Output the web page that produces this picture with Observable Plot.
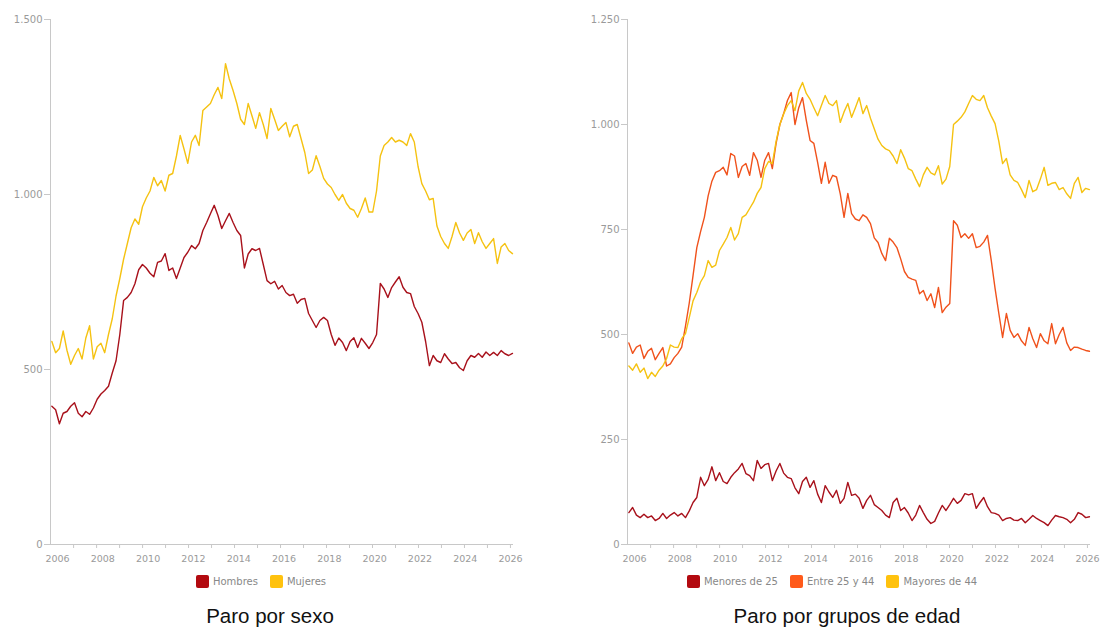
<!DOCTYPE html>
<html>
<head>
<meta charset="utf-8">
<script src="https://cdn.jsdelivr.net/npm/d3@7"></script>
<script src="https://cdn.jsdelivr.net/npm/@observablehq/plot@0.6"></script>
<style>
  html, body { margin: 0; padding: 0; background: #fff; }
  #root { position: relative; width: 1100px; height: 630px; overflow: hidden; background: #fff; }
  .panel-svg { position: absolute; top: 0; }
  .legend { position: absolute; top: 575px; display: flex; justify-content: center; align-items: center; gap: 12px;
            font-family: "DejaVu Sans", sans-serif; font-size: 10px; color: #888; }
  .legend .item { display: flex; align-items: center; gap: 4px; }
  .legend .sw { width: 13px; height: 13px; border-radius: 2px; display: inline-block; }
  .title { position: absolute; top: 604px; text-align: center; font-family: "Liberation Sans", Arial, sans-serif;
           font-size: 20.5px; color: #111; }
</style>
</head>
<body>
<div id="root"></div>
<script>
// ---- Data (one point every 2 months) ----
const startYear = 2005.75;      // first observation (decimal year)
const stepYears = 1 / 6;        // 2-month spacing

const sexNames = ["Hombres", "Mujeres"];
const sexColors = ["#a8111b", "#f5c211"];
const hombres = [
  395, 385, 345, 375, 380, 395, 405, 375, 365, 380, 372, 390,
  415, 430, 440, 452, 490, 525, 600, 697, 706, 720, 745, 785,
  800, 790, 775, 765, 806, 810, 831, 783, 790, 760, 790, 820,
  835, 854, 845, 860, 897, 920, 945, 969, 940, 903, 925, 946,
  920, 897, 883, 790, 830, 845, 840, 846, 800, 754, 745, 752,
  730, 740, 720, 711, 715, 689, 700, 703, 660, 640, 620, 640,
  649, 640, 600, 569, 590, 577, 554, 580, 591, 563, 589, 575,
  560, 577, 600, 746, 730, 706, 734, 750, 765, 735, 720, 717,
  680, 660, 635, 580, 511, 540, 525, 520, 545, 530, 517, 520,
  505, 497, 525, 540, 535, 546, 535, 550, 540, 549, 540, 554,
  545, 540, 546
];
const mujeres = [
  580, 548, 560, 610, 555, 515, 540, 560, 530, 590, 625, 530,
  565, 575, 548, 600, 645, 710, 760, 815, 860, 905, 930, 915,
  965, 990, 1010, 1049, 1025, 1040, 1010, 1055, 1060, 1110, 1169, 1130,
  1089, 1150, 1169, 1140, 1240, 1250, 1260, 1285, 1306, 1274, 1374, 1330,
  1297, 1260, 1215, 1200, 1260, 1225, 1189, 1234, 1200, 1160, 1246, 1215,
  1183, 1195, 1206, 1165, 1195, 1200, 1160, 1120, 1060, 1070, 1111, 1080,
  1046, 1030, 1020, 1000, 983, 1000, 975, 960, 955, 935, 960, 990,
  950, 950, 1010, 1110, 1140, 1150, 1163, 1150, 1155, 1150, 1140, 1174,
  1150, 1080, 1031, 1010, 985, 989, 910, 880, 860, 846, 880, 920,
  890, 869, 890, 900, 860, 891, 865, 846, 860, 874, 803, 850,
  860, 840, 831
];

const ageNames = ["Menores de 25", "Entre 25 y 44", "Mayores de 44"];
const ageColors = ["#a8111b", "#f0521c", "#f5c211"];
const menores25 = [
  76, 88, 70, 64, 72, 64, 68, 57, 62, 74, 62, 70,
  76, 68, 74, 64, 80, 100, 112, 160, 140, 155, 185, 152,
  171, 150, 145, 160, 171, 180, 193, 169, 164, 152, 200, 181,
  190, 193, 152, 175, 193, 170, 160, 157, 135, 121, 150, 160,
  136, 152, 120, 100, 140, 125, 112, 129, 98, 110, 148, 117,
  120, 110, 86, 105, 117, 95, 88, 81, 70, 64, 100, 110,
  81, 88, 75, 57, 70, 93, 76, 60, 50, 55, 75, 93,
  81, 95, 110, 98, 105, 121, 118, 121, 86, 100, 112, 90,
  76, 74, 70, 57, 62, 64, 58, 57, 62, 52, 60, 69,
  62, 57, 52, 45, 58, 69, 66, 64, 60, 52, 60, 76,
  72, 64, 66
];
const entre25y44 = [
  480, 455, 470, 475, 443, 460, 467, 440, 455, 469, 425, 430,
  445, 455, 470, 520, 575, 640, 707, 745, 779, 830, 865, 886,
  890, 898, 880, 931, 925, 874, 900, 907, 879, 933, 915, 874,
  915, 933, 895, 955, 1000, 1026, 1057, 1076, 1000, 1040, 1064, 1010,
  962, 955, 910, 860, 910, 860, 879, 875, 835, 779, 836, 788,
  775, 771, 785, 779, 764, 730, 719, 693, 676, 729, 720, 707,
  680, 650, 636, 632, 629, 597, 605, 581, 597, 564, 612, 552,
  565, 574, 771, 760, 731, 740, 729, 740, 707, 710, 720, 736,
  676, 610, 550, 493, 550, 510, 493, 502, 485, 474, 517, 490,
  469, 502, 485, 478, 526, 478, 500, 517, 480, 462, 470, 469,
  465, 462, 460
];
const mayores44 = [
  425, 415, 430, 410, 420, 395, 410, 400, 415, 425, 443, 475,
  470, 469, 490, 502, 540, 580, 600, 625, 640, 676, 660, 665,
  700, 715, 731, 755, 725, 740, 779, 785, 800, 815, 836, 850,
  895, 912, 907, 960, 1000, 1025, 1045, 1057, 1033, 1080, 1100, 1074,
  1060, 1040, 1021, 1045, 1069, 1050, 1045, 1057, 1005, 1030, 1050, 1017,
  1040, 1064, 1026, 1045, 1015, 990, 965, 950, 942, 938, 925, 907,
  940, 920, 895, 890, 870, 852, 880, 898, 885, 880, 902, 858,
  870, 900, 1000, 1008, 1017, 1030, 1050, 1069, 1060, 1057, 1069, 1040,
  1020, 1002, 960, 907, 919, 880, 867, 862, 845, 826, 867, 840,
  845, 870, 898, 855, 860, 862, 845, 850, 835, 824, 860, 874,
  838, 848, 845
];

const labelYears = [2006, 2008, 2010, 2012, 2014, 2016, 2018, 2020, 2022, 2024, 2026];
const sexYTicks = [0, 500, 1000, 1500];
const ageYTicks = [0, 250, 500, 750, 1000, 1250];

// ---- Helpers ----
const esFormat = d3.formatLocale({decimal: ",", thousands: ".", grouping: [3], currency: ["", " €"]}).format(",d");
const xDomain = [2005.69, 2026.13];
const minorTicks = d3.range(20).map(i => 2006.71 + i * 1.015);

function toRows(names, arrays) {
  return names.flatMap((name, s) => arrays[s].map((v, i) => ({t: startYear + i * stepYears, v, name})));
}

function makeChart(names, colors, arrays, yMax, yTicks) {
  const data = toRows(names, arrays);
  return Plot.plot({
    width: 545,
    height: 570,
    marginLeft: 50,
    marginRight: 32,
    marginTop: 19,
    marginBottom: 26,
    style: {fontFamily: "DejaVu Sans, sans-serif", fontSize: "10px", color: "#9a9a9a", background: "white", overflow: "visible"},
    x: {domain: xDomain},
    y: {domain: [0, yMax]},
    color: {domain: names, range: colors},
    marks: [
      Plot.ruleX([xDomain[0]], {stroke: "#c8c8c8"}),
      Plot.ruleY([0], {stroke: "#c8c8c8"}),
      Plot.axisY({ticks: yTicks, tickFormat: esFormat, tickSize: 6, tickPadding: 2, stroke: "#c8c8c8", label: null}),
      Plot.axisX({ticks: minorTicks, tickFormat: () => "", tickSize: 4, stroke: "#c8c8c8", label: null}),
      Plot.axisX({ticks: labelYears, tickFormat: d => String(d), tickSize: 0, tickPadding: 11, fontSize: 9.5, label: null}),
      Plot.line(data, {x: "t", y: "v", z: "name", stroke: "name", strokeWidth: 1.4, curve: "linear"})
    ]
  });
}

function legend(names, colors) {
  const div = document.createElement("div");
  div.className = "legend";
  names.forEach((n, i) => {
    const it = document.createElement("div");
    it.className = "item";
    const sw = document.createElement("span");
    sw.className = "sw";
    sw.style.background = i === names.length - 1 ? "#ffc20e" : (colors[i] === "#f0521c" ? "#ff5a1a" : "#b30a10");
    const tx = document.createElement("span");
    tx.textContent = n;
    it.append(sw, tx);
    div.append(it);
  });
  return div;
}

const root = document.getElementById("root");

const left = makeChart(sexNames, sexColors, [hombres, mujeres], 1500, sexYTicks);
left.classList.add("panel-svg");
left.style.left = "0px";
root.append(left);

const right = makeChart(ageNames, ageColors, [menores25, entre25y44, mayores44], 1250, ageYTicks);
right.classList.add("panel-svg");
right.style.left = "577px";
root.append(right);

const lgL = legend(sexNames, sexColors);
lgL.style.left = "0px"; lgL.style.width = "522px";
root.append(lgL);
const lgR = legend(ageNames, ageColors);
lgR.style.left = "579px"; lgR.style.width = "506px";
root.append(lgR);

const tL = document.createElement("div");
tL.className = "title"; tL.textContent = "Paro por sexo";
tL.style.left = "0px"; tL.style.width = "540px";
root.append(tL);
const tR = document.createElement("div");
tR.className = "title"; tR.textContent = "Paro por grupos de edad";
tR.style.left = "579px"; tR.style.width = "536px";
root.append(tR);
</script>
</body>
</html>
